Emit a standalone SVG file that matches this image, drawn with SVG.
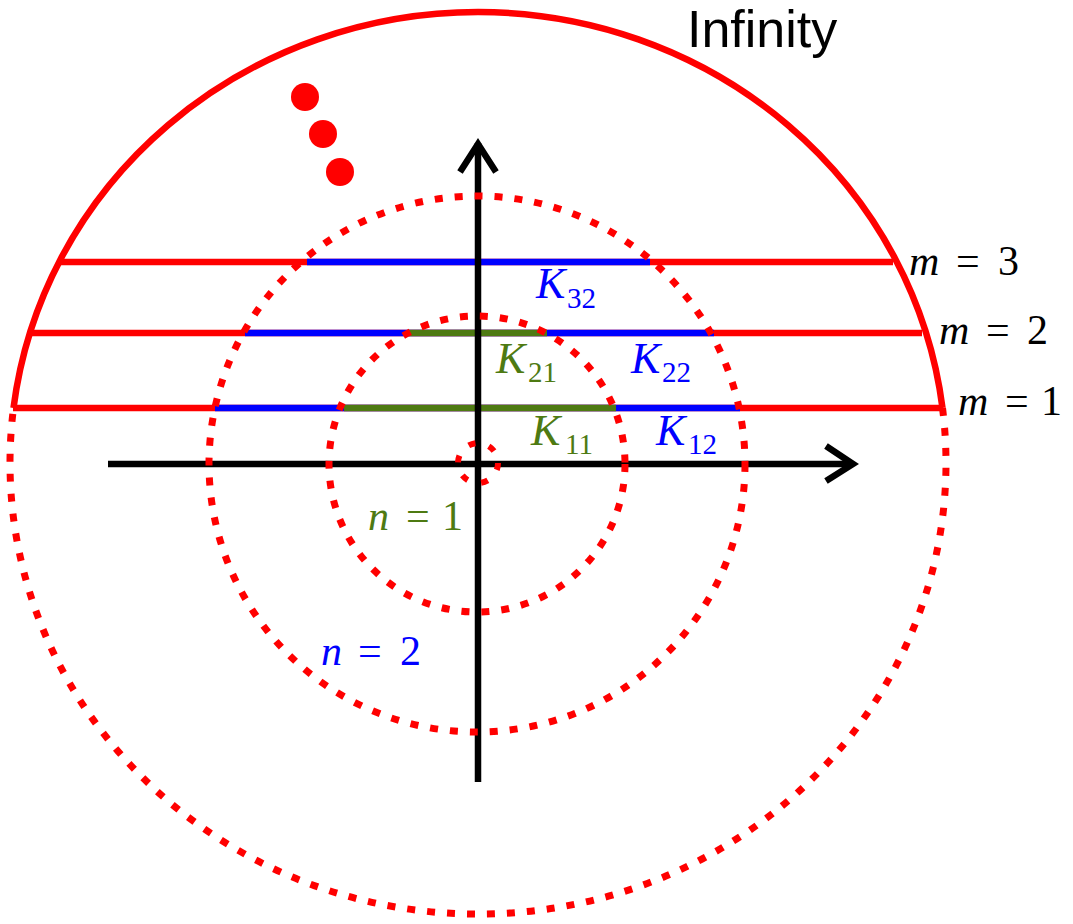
<svg xmlns="http://www.w3.org/2000/svg" width="1073" height="924" viewBox="0 0 1073 924">
<style>
.red{stroke:#FF0000;stroke-width:6.5;fill:none}
.blue{stroke:#0000FF;stroke-width:6.5;fill:none}
.green{stroke:#4E7A12;stroke-width:6.5;fill:none}
.dot{stroke:#FF0000;stroke-width:7;fill:none;stroke-dasharray:8 12}
.axis{stroke:#000;stroke-width:6.5;fill:none}
.math{font-family:"Liberation Serif","DejaVu Serif",serif}
.it{font-style:italic}
</style>
<rect width="1073" height="924" fill="#fff"/>
<g id="lines">
<line class="red" x1="60" y1="262" x2="893" y2="262"/>
<line class="blue" x1="307" y1="262" x2="650" y2="262"/>
<line class="red" x1="30" y1="333" x2="922" y2="333"/>
<line class="blue" x1="245" y1="333" x2="714" y2="333"/>
<line class="green" x1="409" y1="333" x2="547" y2="333"/>
<line class="red" x1="13" y1="408" x2="943" y2="408"/>
<line class="blue" x1="215" y1="408" x2="740" y2="408"/>
<line class="green" x1="344" y1="408" x2="616" y2="408"/>
</g>
<g id="axes">
<line class="axis" x1="108" y1="464" x2="853" y2="464"/>
<polyline class="axis" points="826,446 853,464 826,481"/>
<line class="axis" x1="478" y1="143" x2="478" y2="782"/>
<polyline class="axis" points="460,172 478,144 496,172"/>
</g>
<g id="infinity">
<path class="red" d="M 13.5 408 A 468 451 0 0 1 942.5 408"/>
<path class="dot" d="M 942.5 408 A 468 451 0 1 1 13.5 408"/>
<circle cx="305" cy="97" r="14" fill="#FF0000"/>
<circle cx="323" cy="134" r="14" fill="#FF0000"/>
<circle cx="340" cy="172" r="14" fill="#FF0000"/>
<text x="687" y="47" font-family="Liberation Sans, Arial, sans-serif" font-size="52" fill="#000">Infinity</text>
</g>
<g id="circles">
<circle class="dot" cx="477" cy="464" r="268"/>
<circle class="dot" cx="477" cy="464" r="148"/>
<circle class="dot" cx="478" cy="463" r="20" style="stroke-width:6;stroke-dasharray:7 14"/>
</g>
<g id="labels" class="math">
<g fill="#000" font-size="42">
<text class="it" x="909" y="275">m</text><text x="956" y="275">=</text><text x="998" y="275">3</text>
<text class="it" x="939" y="344">m</text><text x="986" y="344">=</text><text x="1027" y="344">2</text>
<text class="it" x="958" y="415">m</text><text x="1005" y="415">=</text><text x="1041" y="415">1</text>
</g>
<g fill="#4E7A12">
<text class="it" x="368" y="530" font-size="42">n</text><text x="406" y="530" font-size="42">=</text><text x="442" y="530" font-size="42">1</text>
<text class="it" x="496" y="373" font-size="44">K</text><text x="528" y="382" font-size="29">21</text>
<text class="it" x="531" y="445" font-size="44">K</text><text x="565" y="454" font-size="29">11</text>
</g>
<g fill="#0000FF">
<text class="it" x="321" y="665" font-size="42">n</text><text x="358" y="665" font-size="42">=</text><text x="400" y="665" font-size="42">2</text>
<text class="it" x="536" y="298" font-size="44">K</text><text x="567" y="308" font-size="29">32</text>
<text class="it" x="631" y="373" font-size="44">K</text><text x="662" y="382" font-size="29">22</text>
<text class="it" x="656" y="445" font-size="44">K</text><text x="688" y="454" font-size="29">12</text>
</g>
</g>
</svg>
